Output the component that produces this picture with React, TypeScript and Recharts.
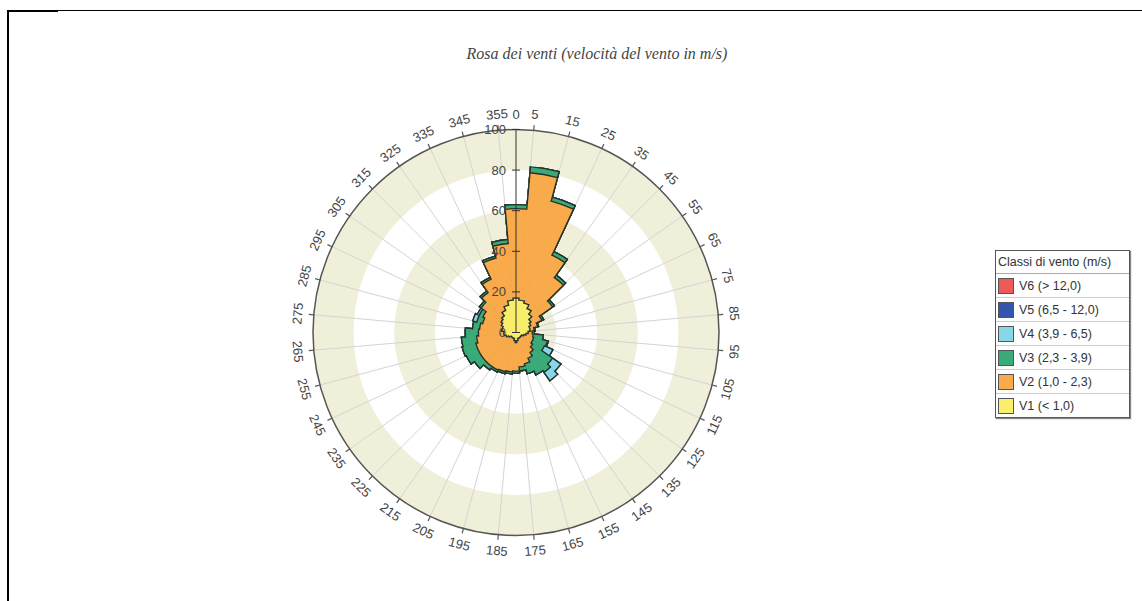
import React from "react";
import {
  RadialBarChart,
  RadialBar,
  PolarAngleAxis,
  PolarRadiusAxis,
  PolarGrid,
  PieChart,
  Pie,
} from "recharts";

const W = 1142;
const H = 601;
const CX = 516;
const CY = 332.5;
const R = 203;
const RAD = Math.PI / 180;
const FONT = "'Liberation Sans', Arial, sans-serif";
const OUTLINE = "#22302a";
const BEIGE = "#F0EFD9";
const NO_MARGIN = { top: 0, right: 0, bottom: 0, left: 0 };

// sectors (centre of each 10° slice, compass degrees)
const directions = [
  0, 10, 20, 30, 40, 50, 60, 70, 80, 90, 100, 110, 120, 130, 140, 150, 160, 170,
  180, 190, 200, 210, 220, 230, 240, 250, 260, 270, 280, 290, 300, 310, 320, 330, 340, 350,
];
// labels sit on the slice borders
const angleLabels = [
  "5", "15", "25", "35", "45", "55", "65", "75", "85", "95", "105", "115", "125", "135",
  "145", "155", "165", "175", "185", "195", "205", "215", "225", "235", "245", "255",
  "265", "275", "285", "295", "305", "315", "325", "335", "345", "355",
];
const radialTicks = [0, 20, 40, 60, 80, 100];
const beigeBands = [[0, 20], [40, 60], [80, 100]];

const v1 = [17, 16, 15, 13, 11, 9, 8, 7, 7, 6, 5, 4, 3, 3, 3, 3, 3, 4, 5, 4, 3, 3, 3, 3, 4, 5, 6, 6, 7, 7, 8, 9, 10, 12, 14, 16];
const v2 = [44, 63, 52, 29, 22, 13, 6, 4, 2, 2, 3.5, 5, 6, 7, 9, 11, 13, 13, 14, 15.5, 17, 17.5, 17.5, 17.5, 16.5, 15.5, 13.5, 12.5, 11, 10, 10, 12, 14, 17, 24, 28];
const v3 = [2, 3, 2, 2, 1.5, 1, 1, 0.5, 0.5, 1, 5, 7, 6.5, 12, 12, 9, 5, 2, 1, 1, 1, 1, 2, 4.5, 6.5, 7, 7.5, 6.5, 3.5, 3, 2, 1, 1, 1, 1, 2];
const v4 = [0, 0, 0, 0, 0, 0, 0, 0, 0, 0, 0, 0.5, 4.5, 5, 5, 0, 0, 0, 0, 0, 0, 0, 0, 0, 0, 0, 0, 0, 0, 2, 1, 0, 0, 0, 0, 0];
const v5 = [0, 0, 0, 0, 0, 0, 0, 0, 0, 0, 0, 0, 0, 0, 0, 0, 0, 0, 0, 0, 0, 0, 0, 0, 0, 0, 0, 0, 0, 0, 0, 0, 0, 0, 0, 0];
const v6 = [0, 0, 0, 0, 0, 0, 0, 0, 0, 0, 0, 0, 0, 0, 0, 0, 0, 0, 0, 0, 0, 0, 0, 0, 0, 0, 0, 0, 0, 0, 0, 0, 0, 0, 0, 0];

// outermost class first: it is painted first and the smaller ones cover it
const classes = [
  { key: "v6", name: "V6 (> 12,0)", color: "#EE5A5A", values: v6 },
  { key: "v5", name: "V5 (6,5 - 12,0)", color: "#3556B0", values: v5 },
  { key: "v4", name: "V4 (3,9 - 6,5)", color: "#88D6EA", values: v4 },
  { key: "v3", name: "V3 (2,3 - 3,9)", color: "#3AAA78", values: v3 },
  { key: "v2", name: "V2 (1,0 - 2,3)", color: "#F9AA4B", values: v2 },
  { key: "v1", name: "V1 (< 1,0)", color: "#F8EF6C", values: v1 },
];

// cumulative totals per sector (v1, v1+v2, ...)
const rows = directions.map((dir, i) => {
  const row: Record<string, number> = { dir };
  let acc = 0;
  [...classes].reverse().forEach((c) => {
    acc += c.values[i];
    row[c.key] = acc;
  });
  return row;
});

const sectorShape = (key: string, color: string) => (p: any) => {
  const { cx, cy, outerRadius: r, startAngle, endAngle, payload } = p;
  if (!r || r <= 0) return <g />;
  const idx = directions.indexOf(payload.dir);
  const n = rows.length;
  const cur = rows[idx][key];
  const nextV = rows[(idx + 1) % n][key];
  const prevV = rows[(idx - 1 + n) % n][key];
  const a0 = Math.min(startAngle, endAngle);
  const a1 = Math.max(startAngle, endAngle);
  const at = (rr: number, a: number) =>
    `${cx + rr * Math.cos(-a * RAD)},${cy + rr * Math.sin(-a * RAD)}`;
  let line = `M${at(r, a0)} A${r},${r} 0 0 0 ${at(r, a1)}`;
  if (nextV < cur) line += ` M${at((r * nextV) / cur, a0)} L${at(r, a0)}`;
  if (prevV < cur) line += ` M${at((r * prevV) / cur, a1)} L${at(r, a1)}`;
  return (
    <g>
      <path
        d={`M${cx},${cy} L${at(r, a0)} A${r},${r} 0 0 0 ${at(r, a1)} Z`}
        fill={color}
        stroke={color}
        strokeWidth={0.8}
        strokeLinejoin="round"
      />
      <path d={line} fill="none" stroke={OUTLINE} strokeWidth={1.35} strokeLinecap="square" />
    </g>
  );
};

const AngleTick = (p: any) => {
  const dir = Number(p.payload.value);
  const i = directions.indexOf(dir);
  const compass = dir + 5;
  const a = (90 - compass) * RAD;
  const px = (r: number) => CX + r * Math.cos(-a);
  const py = (r: number) => CY + r * Math.sin(-a);
  const tx = px(R + 16);
  const ty = py(R + 16);
  const rot = compass > 90 && compass < 270 ? compass - 180 : compass;
  return (
    <g>
      <line x1={px(R)} y1={py(R)} x2={px(R + 5)} y2={py(R + 5)} stroke="#555" strokeWidth={1.2} />
      <text x={tx} y={ty} transform={`rotate(${rot} ${tx} ${ty})`} textAnchor="middle" dominantBaseline="central" fontSize={13} fill="#444" fontFamily={FONT}>
        {angleLabels[i]}
      </text>
      {dir === 0 && (
        <text x={CX} y={CY - R - 15} textAnchor="middle" dominantBaseline="central" fontSize={13} fill="#444" fontFamily={FONT}>
          0
        </text>
      )}
    </g>
  );
};

const radiusTick = (skipZero: boolean) => (p: any) => {
  const { x, y, payload } = p;
  if (skipZero && payload.value === 0) return <g />;
  return (
    <g>
      <line x1={x - 4} y1={y} x2={x + 4} y2={y} stroke="#333" strokeWidth={1} />
      <text x={x - 10} y={y} textAnchor="end" dominantBaseline="central" fontSize={13} fill="#444" fontFamily={FONT}>
        {payload.value}
      </text>
    </g>
  );
};

const gridAngles = directions.map((d) => 90 - (d + 5));

export default function App() {
  return (
    <div style={{ position: "absolute", left: 0, top: 0, width: W, height: H, background: "#fff", overflow: "hidden" }}>
      {/* frame */}
      <div style={{ position: "absolute", left: 7, top: 10, right: 0, height: 1, background: "#000" }} />
      <div style={{ position: "absolute", left: 7, top: 10, width: 51, height: 2, background: "#000" }} />
      <div style={{ position: "absolute", left: 7, top: 10, width: 2, bottom: 0, background: "#000" }} />

      <div style={{ position: "absolute", left: 297, top: 45, width: 600, textAlign: "center", fontFamily: "'Liberation Serif', 'Times New Roman', serif", fontStyle: "italic", fontSize: 16, lineHeight: "18px", color: "#444" }}>
        Rosa dei venti (velocità del vento in m/s)
      </div>

      <div style={{ position: "absolute", left: 0, top: 0 }}>
        <PieChart width={W} height={H} margin={NO_MARGIN}>
          {beigeBands.map(([lo, hi], i) => (
            <Pie
              key={i}
              data={[{ v: 1 }]}
              dataKey="v"
              cx={CX}
              cy={CY}
              innerRadius={(R * lo) / 100}
              outerRadius={(R * hi) / 100}
              startAngle={0}
              endAngle={360}
              fill={BEIGE}
              stroke="none"
              isAnimationActive={false}
            />
          ))}
        </PieChart>
      </div>

      <div style={{ position: "absolute", left: 0, top: 0 }}>
        <RadialBarChart
          width={W}
          height={H}
          data={rows}
          layout="centric"
          cx={CX}
          cy={CY}
          innerRadius={0}
          outerRadius={R}
          startAngle={85}
          endAngle={-275}
          barCategoryGap={0}
          barGap="-100%"
          margin={NO_MARGIN}
        >
          <PolarGrid gridType="circle" polarAngles={gridAngles} polarRadius={[]} stroke="#d4d4d4" />
          {classes.map((c) => (
            <RadialBar
              key={c.key}
              dataKey={c.key}
              name={c.name}
              fill={c.color}
              shape={sectorShape(c.key, c.color)}
              isAnimationActive={false}
            />
          ))}
          <PolarAngleAxis
            type="category"
            dataKey="dir"
            axisLineType="circle"
            axisLine={{ stroke: "#555", strokeWidth: 1.5 }}
            tickLine={false}
            tick={AngleTick}
          />
          <PolarRadiusAxis
            type="number"
            domain={[0, 100]}
            ticks={radialTicks}
            tickCount={6}
            angle={90}
            axisLine={{ stroke: "#333", strokeWidth: 1 }}
            tick={radiusTick(false)}
          />
          <PolarRadiusAxis
            radiusAxisId="down"
            type="number"
            domain={[0, 100]}
            ticks={radialTicks}
            tickCount={6}
            angle={270}
            axisLine={{ stroke: "#333", strokeWidth: 1 }}
            tick={radiusTick(true)}
          />
        </RadialBarChart>
      </div>

      <div style={{ position: "absolute", left: 995, top: 250, width: 133, border: "1px solid #555", boxShadow: "1px 1px 1px #888", background: "#fff", fontFamily: FONT, fontSize: 12.5, color: "#333" }}>
        <div style={{ height: 22, lineHeight: "22px", paddingLeft: 2, borderBottom: "1px solid #aaa", whiteSpace: "nowrap" }}>
          Classi di vento (m/s)
        </div>
        {classes.map((c, i) => (
          <div key={c.key} style={{ height: 23, display: "flex", alignItems: "center", borderBottom: i < classes.length - 1 ? "1px solid #ccc" : "none", whiteSpace: "nowrap" }}>
            <span style={{ display: "inline-block", width: 14, height: 14, background: c.color, border: "1px solid #555", marginLeft: 2, marginRight: 5 }} />
            {c.name}
          </div>
        ))}
      </div>
    </div>
  );
}
